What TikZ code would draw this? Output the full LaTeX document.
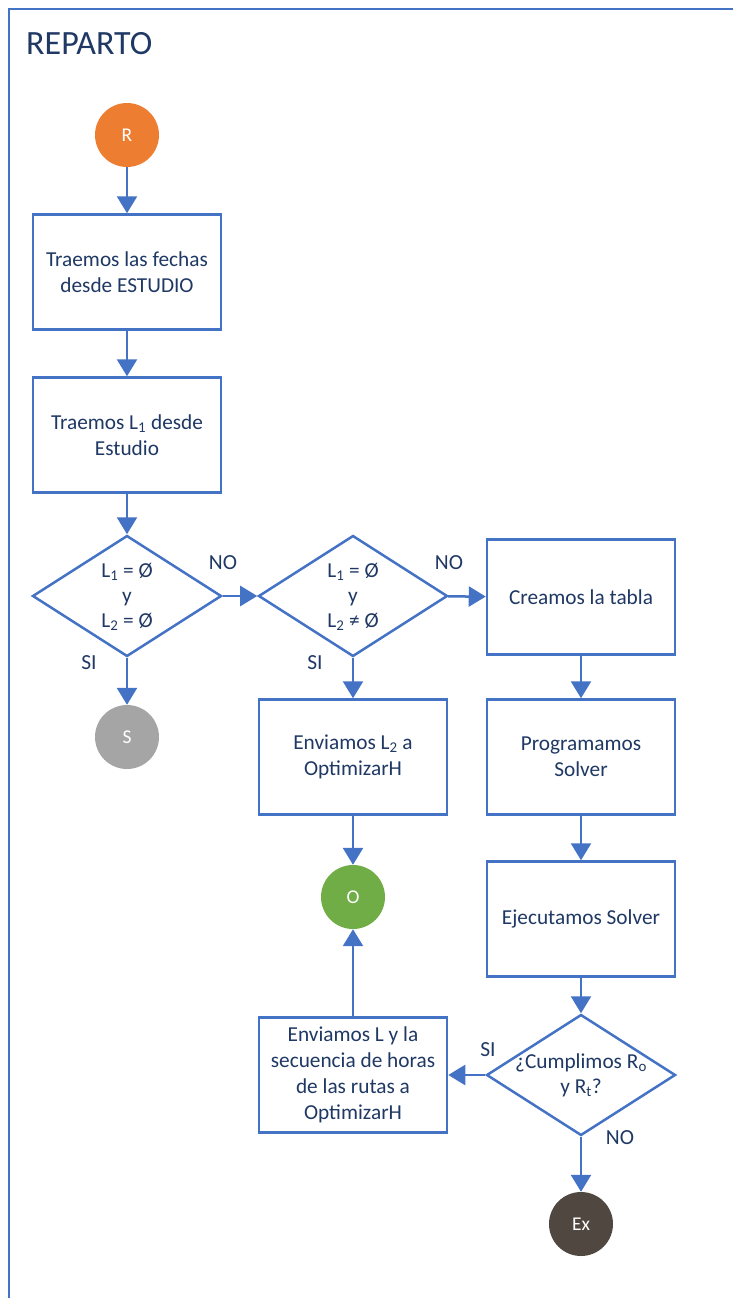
\documentclass[tikz,border=0pt]{standalone}
\usepackage{fontspec}
\setmainfont{Carlito}
\usetikzlibrary{shapes.geometric,arrows.meta}
\definecolor{flowblue}{HTML}{4472C4}
\definecolor{inkblue}{HTML}{1F3864}
\definecolor{startorange}{HTML}{ED7D31}
\definecolor{stopgrey}{HTML}{A5A5A5}
\definecolor{outgreen}{HTML}{70AD47}
\definecolor{exitbrown}{HTML}{504840}
\newcommand{\sub}[1]{\textsubscript{#1}}
\tikzset{
  txt/.style={text=inkblue, font=\fontsize{21.3}{26}\selectfont, align=center},
  stepbox/.style={draw=flowblue, line width=2.5pt, fill=white, rectangle,
    minimum width=188pt, minimum height=115pt, inner sep=0pt, txt},
  decision/.style={draw=flowblue, line width=2.5pt, fill=white, diamond,
    minimum width=189pt, minimum height=121pt, inner sep=0pt},
  dtext/.style={txt, font=\fontsize{21.3}{25}\selectfont},
  terminal/.style={circle, minimum size=64pt, inner sep=0pt, text=white,
    font=\fontsize{19.5}{22}\selectfont},
  flow/.style={draw=flowblue, line width=2.5pt,
    -{Triangle[width=20pt,length=17pt]}},
  lbl/.style={text=inkblue, font=\fontsize{21.5}{24}\selectfont, inner sep=0pt}
}
\begin{document}
\begin{tikzpicture}[x=1pt,y=-1pt]
\useasboundingbox (0,0) rectangle (733,1298);
% outer swimlane frame and its title
\draw[flowblue, line width=2.5pt] (9,1300) -- (9,9) -- (735,9);
\node[anchor=west, text=inkblue, font=\fontsize{34}{38}\selectfont, inner sep=0pt] (title) at (26,44) {REPARTO};

% main column
\node[terminal, fill=startorange] (r) at (127,135) {R};
\node[stepbox] (fechas) at (127,272) {Traemos las fechas\\desde ESTUDIO};
\node[stepbox] (lone) at (127,435) {Traemos L\sub{1} desde\\Estudio};
\node[decision] (d1) at (127,596) {};
\node[dtext] (d1t) at (127,597) {L\sub{1} = Ø\\y\\L\sub{2} = Ø};
\node[terminal, fill=stopgrey] (s) at (127,737) {S};

% middle column
\node[decision] (d2) at (353,596) {};
\node[dtext] (d2t) at (353,597) {L\sub{1} = Ø\\y\\L\sub{2} ≠ Ø};
\node[stepbox] (envl2) at (353,757) {Enviamos L\sub{2} a\\OptimizarH};
\node[terminal, fill=outgreen] (o) at (353,897) {O};
\node[stepbox] (envl) at (353,1075) {Enviamos L y la\\secuencia de horas\\de las rutas a\\OptimizarH};

% right column
\node[stepbox] (tabla) at (581,597) {Creamos la tabla};
\node[stepbox] (prog) at (581,757) {Programamos\\Solver};
\node[stepbox] (ejec) at (581,919) {Ejecutamos Solver};
\node[decision] (d3) at (581,1075) {};
\node[dtext] (d3t) at (581,1075) {¿Cumplimos R\sub{o}\\y R\sub{t}?};
\node[terminal, fill=exitbrown] (ex) at (581,1224) {Ex};

% connectors
\draw[flow] (r) -- (fechas);
\draw[flow] (fechas) -- (lone);
\draw[flow] (lone) -- (d1);
\draw[flow] (d1) -- (s);
\draw[flow] (d1) -- (d2);
\draw[flow] (d2) -- (tabla);
\draw[flow] (d2) -- (envl2);
\draw[flow] (envl2) -- (o);
\draw[flow] (tabla) -- (prog);
\draw[flow] (prog) -- (ejec);
\draw[flow] (ejec) -- (d3);
\draw[flow] (d3) -- (ex);
\draw[flow] (d3) -- (envl);
\draw[flow] (envl) -- (o);

% branch labels
\node[lbl] (no1) at (223,563) {NO};
\node[lbl] (si1) at (89,663) {SI};
\node[lbl] (no2) at (449,563) {NO};
\node[lbl] (si2) at (315,663) {SI};
\node[lbl] (si3) at (488,1050) {SI};
\node[lbl] (no3) at (620,1138) {NO};
\end{tikzpicture}
\end{document}
